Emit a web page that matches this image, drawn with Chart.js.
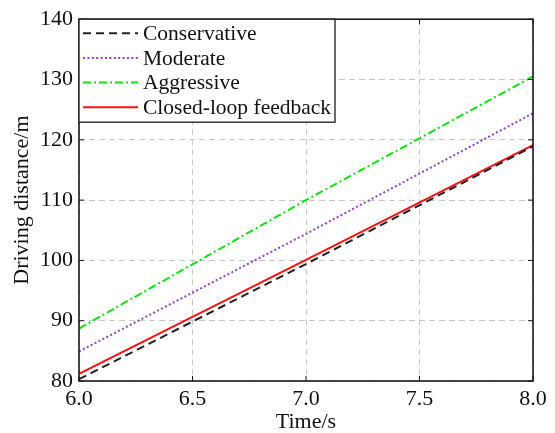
<!DOCTYPE html>
<html><head><meta charset="utf-8">
<script src="https://cdn.jsdelivr.net/npm/chart.js@4.4.0/dist/chart.umd.min.js"></script>
<style>html,body{margin:0;padding:0;background:#fff}</style>
</head><body>
<canvas id="c" width="555" height="433"></canvas>
<script>
const times = [6.0, 7.0, 8.0];
const conservative = [80.3, 99.4, 118.9];
const moderate = [84.9, 104.4, 124.4];
const aggressive = [88.7, 110.0, 130.5];
const closedLoop = [81.2, 100.1, 119.1];
const seriesNames = ['Conservative', 'Moderate', 'Aggressive', 'Closed-loop feedback'];
const xTicks = [6.0, 6.5, 7.0, 7.5, 8.0];
const yTicks = [80, 90, 100, 110, 120, 130, 140];
const xTitle = 'Time/s';
const yTitle = 'Driving distance/m';

const FONT = '"Liberation Serif", "Times New Roman", serif';
const pts = arr => times.map((t, i) => ({x: t, y: arr[i]}));

const styles = [
  {color: '#222222', dash: [8, 5], width: 2},
  {color: '#9340c0', dash: [2, 2.4], width: 2},
  {color: '#11e011', dash: [8, 3, 2, 3], width: 2},
  {color: '#ff1010', dash: [], width: 2}
];
const values = [conservative, moderate, aggressive, closedLoop];

const frame = {
  id: 'frame',
  afterDatasetsDraw(chart) {
    const {ctx, chartArea: a, scales} = chart;
    ctx.save();
    ctx.strokeStyle = '#1a1a1a';
    ctx.lineWidth = 1;
    const L = 5;
    ctx.beginPath();
    xTicks.forEach(v => {
      const x = scales.x.getPixelForValue(v);
      ctx.moveTo(x, a.bottom); ctx.lineTo(x, a.bottom - L);
      ctx.moveTo(x, a.top); ctx.lineTo(x, a.top + L);
    });
    yTicks.forEach(v => {
      const y = scales.y.getPixelForValue(v);
      ctx.moveTo(a.left, y); ctx.lineTo(a.left + L, y);
      ctx.moveTo(a.right, y); ctx.lineTo(a.right - L, y);
    });
    ctx.stroke();
    ctx.lineWidth = 1.6;
    ctx.strokeRect(a.left, a.top, a.right - a.left, a.bottom - a.top);
    // legend
    const lx = a.left, ly = a.top, lw = 256, lh = 103;
    ctx.fillStyle = '#ffffff';
    ctx.fillRect(lx, ly, lw, lh);
    ctx.lineWidth = 1.3;
    ctx.strokeRect(lx, ly, lw, lh);
    ctx.font = '21.5px ' + FONT;
    ctx.textBaseline = 'middle';
    ctx.textAlign = 'left';
    seriesNames.forEach((n, i) => {
      const y = ly + 14 + i * 24.7;
      const s = styles[i];
      ctx.strokeStyle = s.color;
      ctx.lineWidth = s.width;
      ctx.setLineDash(s.dash);
      ctx.beginPath();
      ctx.moveTo(lx + 4, y); ctx.lineTo(lx + 59, y);
      ctx.stroke();
      ctx.setLineDash([]);
      ctx.fillStyle = '#111';
      ctx.fillText(n, lx + 64, y + 1);
    });
    ctx.restore();
  }
};

new Chart(document.getElementById('c'), {
  type: 'line',
  data: {
    datasets: values.map((v, i) => ({
      label: seriesNames[i],
      data: pts(v),
      borderColor: styles[i].color,
      borderDash: styles[i].dash,
      borderWidth: styles[i].width,
      pointRadius: 0,
      tension: 0,
      fill: false
    }))
  },
  options: {
    responsive: false,
    animation: false,
    devicePixelRatio: 1,
    layout: {padding: {top: 19, right: 22, left: 0, bottom: 0}},
    plugins: {legend: {display: false}, tooltip: {enabled: false}},
    scales: {
      x: {
        type: 'linear', min: 6, max: 8,
        afterBuildTicks: s => { s.ticks = xTicks.map(v => ({value: v})); },
        afterFit: s => { s.height = 52; },
        grid: {color: '#c8c8c8', lineWidth: 1, drawTicks: false},
        border: {display: false, dash: [6, 4]},
        ticks: {color: '#111', font: {family: FONT, size: 22}, padding: 5, maxRotation: 0,
          callback: v => Number(v).toFixed(1)},
        title: {display: true, text: xTitle, color: '#111', font: {family: FONT, size: 22}, padding: {top: 0, bottom: -2}}
      },
      y: {
        type: 'linear', min: 80, max: 140,
        afterBuildTicks: s => { s.ticks = yTicks.map(v => ({value: v})); },
        afterFit: s => { s.width = 79; },
        grid: {color: '#c8c8c8', lineWidth: 1, drawTicks: false},
        border: {display: false, dash: [6, 4]},
        ticks: {color: '#111', font: {family: FONT, size: 22}, padding: 6},
        title: {display: true, text: yTitle, color: '#111', font: {family: FONT, size: 22}, padding: {top: 9, bottom: 0}}
      }
    }
  },
  plugins: [frame]
});
</script>
</body></html>
